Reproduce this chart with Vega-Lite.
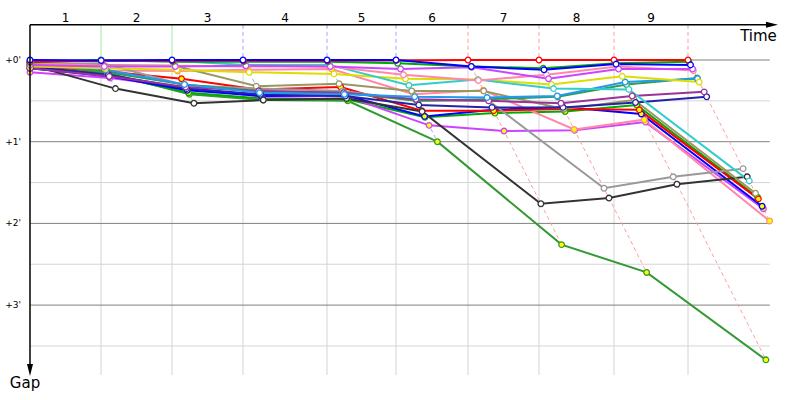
{
  "$schema": "https://vega.github.io/schema/vega-lite/v6.json",
  "width": 800,
  "height": 400,
  "padding": 0,
  "autosize": {"type": "fit", "contains": "padding"},
  "background": "white",
  "config": {"view": {"stroke": null}},
  "datasets": {
    "laps": [
      {"lap": 1, "t": 1.715, "mid": 0.858, "leader": "C"},
      {"lap": 2, "t": 3.430, "mid": 2.573, "leader": "C"},
      {"lap": 3, "t": 5.145, "mid": 4.288, "leader": "B"},
      {"lap": 4, "t": 7.174, "mid": 6.160, "leader": "B"},
      {"lap": 5, "t": 8.841, "mid": 8.007, "leader": "B"},
      {"lap": 6, "t": 10.580, "mid": 9.711, "leader": "A"},
      {"lap": 7, "t": 12.295, "mid": 11.438, "leader": "A"},
      {"lap": 8, "t": 14.106, "mid": 13.200, "leader": "A"},
      {"lap": 9, "t": 15.894, "mid": 15.000, "leader": "A"}
    ],
    "grid": [
      {"g": 0, "kind": "major", "label": "+0'"},
      {"g": 1, "kind": "major", "label": "+1'"},
      {"g": 2, "kind": "major", "label": "+2'"},
      {"g": 3, "kind": "major", "label": "+3'"},
      {"g": 0.5, "kind": "minor", "label": ""},
      {"g": 1.5, "kind": "minor", "label": ""},
      {"g": 2.5, "kind": "minor", "label": ""},
      {"g": 3.5, "kind": "minor", "label": ""}
    ],
    "pts": [
      {"d":"T","c":2,"lap":0,"t":0,"g":0.1},{"d":"T","c":2,"lap":1,"t":1.875,"g":0.16},{"d":"T","c":2,"lap":2,"t":3.85,"g":0.42},{"d":"T","c":2,"lap":3,"t":5.635,"g":0.49},{"d":"T","c":2,"lap":4,"t":7.674,"g":0.5},{"d":"T","c":2,"lap":5,"t":9.841,"g":1.0},{"d":"T","c":2,"lap":6,"t":12.84,"g":2.26},{"d":"T","c":2,"lap":7,"t":14.895,"g":2.6},{"d":"T","c":2,"lap":8,"t":17.776,"g":3.67},
      {"d":"S","c":2,"lap":0,"t":0,"g":0.1},{"d":"S","c":2,"lap":1,"t":1.895,"g":0.18},{"d":"S","c":2,"lap":2,"t":3.83,"g":0.4},{"d":"S","c":2,"lap":3,"t":5.615,"g":0.47},{"d":"S","c":2,"lap":4,"t":7.654,"g":0.48},{"d":"S","c":2,"lap":5,"t":9.541,"g":0.7},{"d":"S","c":2,"lap":6,"t":11.23,"g":0.65},{"d":"S","c":2,"lap":7,"t":12.925,"g":0.63},{"d":"S","c":2,"lap":8,"t":14.656,"g":0.55},{"d":"S","c":2,"lap":9,"t":17.574,"g":1.68},
      {"d":"Q","c":2,"lap":0,"t":0,"g":0.15},{"d":"Q","c":2,"lap":1,"t":1.935,"g":0.22},{"d":"Q","c":2,"lap":2,"t":3.77,"g":0.34},{"d":"Q","c":2,"lap":3,"t":5.595,"g":0.45},{"d":"Q","c":2,"lap":4,"t":7.614,"g":0.44},{"d":"Q","c":2,"lap":5,"t":9.641,"g":0.8},{"d":"Q","c":2,"lap":6,"t":11.45,"g":0.87},{"d":"Q","c":2,"lap":7,"t":13.155,"g":0.86},{"d":"Q","c":2,"lap":8,"t":14.866,"g":0.76},{"d":"Q","c":2,"lap":9,"t":17.714,"g":1.82},
      {"d":"R","c":2,"lap":0,"t":0,"g":0.05},{"d":"R","c":2,"lap":1,"t":1.845,"g":0.13},{"d":"R","c":2,"lap":2,"t":3.565,"g":0.135},{"d":"R","c":2,"lap":3,"t":5.265,"g":0.12},{"d":"R","c":2,"lap":4,"t":7.284,"g":0.11},{"d":"R","c":2,"lap":5,"t":9.261,"g":0.42},{"d":"R","c":2,"lap":6,"t":10.95,"g":0.37},{"d":"R","c":2,"lap":7,"t":13.145,"g":0.85},{"d":"R","c":2,"lap":8,"t":14.836,"g":0.73},{"d":"R","c":2,"lap":9,"t":17.864,"g":1.97},
      {"d":"P","c":2,"lap":0,"t":0,"g":0.1},{"d":"P","c":2,"lap":1,"t":1.915,"g":0.2},{"d":"P","c":2,"lap":2,"t":3.8,"g":0.37},{"d":"P","c":2,"lap":3,"t":5.585,"g":0.44},{"d":"P","c":2,"lap":4,"t":7.604,"g":0.43},{"d":"P","c":2,"lap":5,"t":9.531,"g":0.69},{"d":"P","c":2,"lap":6,"t":11.19,"g":0.61},{"d":"P","c":2,"lap":7,"t":12.87,"g":0.575},{"d":"P","c":2,"lap":8,"t":14.766,"g":0.66},{"d":"P","c":2,"lap":9,"t":17.684,"g":1.79},
      {"d":"O","c":2,"lap":0,"t":0,"g":0.07},{"d":"O","c":2,"lap":1,"t":1.855,"g":0.14},{"d":"O","c":2,"lap":2,"t":3.66,"g":0.23},{"d":"O","c":2,"lap":3,"t":5.505,"g":0.36},{"d":"O","c":2,"lap":4,"t":7.504,"g":0.33},{"d":"O","c":2,"lap":5,"t":9.461,"g":0.62},{"d":"O","c":2,"lap":6,"t":11.2,"g":0.62},{"d":"O","c":2,"lap":7,"t":12.895,"g":0.6},{"d":"O","c":2,"lap":8,"t":14.716,"g":0.61},{"d":"O","c":2,"lap":9,"t":17.594,"g":1.7},
      {"d":"L","c":1,"lap":0,"t":0,"g":0.06},{"d":"L","c":1,"lap":1,"t":2.065,"g":0.35},{"d":"L","c":1,"lap":2,"t":3.96,"g":0.53},{"d":"L","c":1,"lap":3,"t":5.635,"g":0.49},{"d":"L","c":1,"lap":4,"t":7.644,"g":0.47},{"d":"L","c":1,"lap":5,"t":9.471,"g":0.63},{"d":"L","c":1,"lap":6,"t":12.34,"g":1.76},{"d":"L","c":1,"lap":7,"t":13.985,"g":1.69},{"d":"L","c":1,"lap":8,"t":15.626,"g":1.52},{"d":"L","c":1,"lap":9,"t":17.324,"g":1.43},
      {"d":"K","c":1,"lap":0,"t":0,"g":0.05},{"d":"K","c":1,"lap":1,"t":1.755,"g":0.04},{"d":"K","c":1,"lap":2,"t":3.74,"g":0.31},{"d":"K","c":1,"lap":3,"t":5.495,"g":0.35},{"d":"K","c":1,"lap":4,"t":7.554,"g":0.38},{"d":"K","c":1,"lap":5,"t":9.341,"g":0.5},{"d":"K","c":1,"lap":6,"t":11.08,"g":0.5},{"d":"K","c":1,"lap":7,"t":13.865,"g":1.57},{"d":"K","c":1,"lap":8,"t":15.536,"g":1.43},{"d":"K","c":1,"lap":9,"t":17.224,"g":1.33},
      {"d":"M","c":1,"lap":0,"t":0,"g":0.05},{"d":"M","c":1,"lap":1,"t":1.775,"g":0.06},{"d":"M","c":1,"lap":2,"t":3.5,"g":0.07},{"d":"M","c":1,"lap":3,"t":5.465,"g":0.32},{"d":"M","c":1,"lap":4,"t":7.464,"g":0.29},{"d":"M","c":1,"lap":5,"t":9.221,"g":0.38},{"d":"M","c":1,"lap":6,"t":10.96,"g":0.38},{"d":"M","c":1,"lap":7,"t":12.895,"g":0.6},{"d":"M","c":1,"lap":8,"t":14.596,"g":0.49},{"d":"M","c":1,"lap":9,"t":17.524,"g":1.63},
      {"d":"N","c":1,"lap":0,"t":0,"g":0.04},{"d":"N","c":1,"lap":1,"t":1.865,"g":0.15},{"d":"N","c":1,"lap":2,"t":3.73,"g":0.3},{"d":"N","c":1,"lap":3,"t":5.525,"g":0.38},{"d":"N","c":1,"lap":4,"t":7.574,"g":0.4},{"d":"N","c":1,"lap":5,"t":9.341,"g":0.5},{"d":"N","c":1,"lap":6,"t":11.06,"g":0.48},{"d":"N","c":1,"lap":7,"t":12.745,"g":0.45},{"d":"N","c":1,"lap":8,"t":14.406,"g":0.3},{"d":"N","c":1,"lap":9,"t":16.114,"g":0.22},
      {"d":"J","c":1,"lap":0,"t":0,"g":0.08},{"d":"J","c":1,"lap":1,"t":1.895,"g":0.18},{"d":"J","c":1,"lap":2,"t":3.78,"g":0.35},{"d":"J","c":1,"lap":3,"t":5.565,"g":0.42},{"d":"J","c":1,"lap":4,"t":7.614,"g":0.44},{"d":"J","c":1,"lap":5,"t":9.391,"g":0.55},{"d":"J","c":1,"lap":6,"t":11.16,"g":0.58},{"d":"J","c":1,"lap":7,"t":12.875,"g":0.58},{"d":"J","c":1,"lap":8,"t":14.626,"g":0.52},{"d":"J","c":1,"lap":9,"t":16.344,"g":0.45},
      {"d":"I","c":1,"lap":0,"t":0,"g":0.1},{"d":"I","c":1,"lap":1,"t":1.915,"g":0.2},{"d":"I","c":1,"lap":2,"t":3.76,"g":0.33},{"d":"I","c":1,"lap":3,"t":5.525,"g":0.38},{"d":"I","c":1,"lap":4,"t":7.574,"g":0.4},{"d":"I","c":1,"lap":5,"t":9.321,"g":0.48},{"d":"I","c":1,"lap":6,"t":11.08,"g":0.5},{"d":"I","c":1,"lap":7,"t":12.825,"g":0.53},{"d":"I","c":1,"lap":8,"t":14.546,"g":0.44},{"d":"I","c":1,"lap":9,"t":16.284,"g":0.39},
      {"d":"G","c":1,"lap":0,"t":0,"g":0.03},{"d":"G","c":1,"lap":1,"t":1.835,"g":0.12},{"d":"G","c":1,"lap":2,"t":3.73,"g":0.3},{"d":"G","c":1,"lap":3,"t":5.545,"g":0.4},{"d":"G","c":1,"lap":4,"t":7.594,"g":0.42},{"d":"G","c":1,"lap":5,"t":9.291,"g":0.45},{"d":"G","c":1,"lap":6,"t":11.04,"g":0.46},{"d":"G","c":1,"lap":7,"t":12.735,"g":0.44},{"d":"G","c":1,"lap":8,"t":14.376,"g":0.27},{"d":"G","c":1,"lap":9,"t":16.124,"g":0.23},
      {"d":"H","c":1,"lap":0,"t":0,"g":0.08},{"d":"H","c":1,"lap":1,"t":1.815,"g":0.1},{"d":"H","c":1,"lap":2,"t":3.55,"g":0.12},{"d":"H","c":1,"lap":3,"t":5.295,"g":0.15},{"d":"H","c":1,"lap":4,"t":7.344,"g":0.17},{"d":"H","c":1,"lap":5,"t":9.071,"g":0.23},{"d":"H","c":1,"lap":6,"t":10.82,"g":0.24},{"d":"H","c":1,"lap":7,"t":12.595,"g":0.3},{"d":"H","c":1,"lap":8,"t":14.306,"g":0.2},{"d":"H","c":1,"lap":9,"t":16.164,"g":0.27},
      {"d":"F","c":1,"lap":0,"t":0,"g":0.01},{"d":"F","c":1,"lap":1,"t":1.725,"g":0.01},{"d":"F","c":1,"lap":2,"t":3.44,"g":0.01},{"d":"F","c":1,"lap":3,"t":5.205,"g":0.06},{"d":"F","c":1,"lap":4,"t":7.234,"g":0.06},{"d":"F","c":1,"lap":5,"t":9.151,"g":0.31},{"d":"F","c":1,"lap":6,"t":10.82,"g":0.24},{"d":"F","c":1,"lap":7,"t":12.645,"g":0.35},{"d":"F","c":1,"lap":8,"t":14.466,"g":0.36},{"d":"F","c":1,"lap":9,"t":17.374,"g":1.48},
      {"d":"E","c":1,"lap":0,"t":0,"g":0.04},{"d":"E","c":1,"lap":1,"t":1.785,"g":0.07},{"d":"E","c":1,"lap":2,"t":3.5,"g":0.07},{"d":"E","c":1,"lap":3,"t":5.225,"g":0.08},{"d":"E","c":1,"lap":4,"t":7.254,"g":0.08},{"d":"E","c":1,"lap":5,"t":9.021,"g":0.18},{"d":"E","c":1,"lap":6,"t":10.83,"g":0.25},{"d":"E","c":1,"lap":7,"t":12.475,"g":0.18},{"d":"E","c":1,"lap":8,"t":14.186,"g":0.08},{"d":"E","c":1,"lap":9,"t":16.024,"g":0.13},
      {"d":"D","c":1,"lap":0,"t":0,"g":0.06},{"d":"D","c":1,"lap":1,"t":1.795,"g":0.08},{"d":"D","c":1,"lap":2,"t":3.51,"g":0.08},{"d":"D","c":1,"lap":3,"t":5.215,"g":0.07},{"d":"D","c":1,"lap":4,"t":7.254,"g":0.08},{"d":"D","c":1,"lap":5,"t":8.951,"g":0.11},{"d":"D","c":1,"lap":6,"t":10.67,"g":0.09},{"d":"D","c":1,"lap":7,"t":12.525,"g":0.23},{"d":"D","c":1,"lap":8,"t":14.216,"g":0.11},{"d":"D","c":1,"lap":9,"t":16.004,"g":0.11},
      {"d":"C","c":1,"lap":0,"t":0,"g":0.03},{"d":"C","c":1,"lap":1,"t":1.715,"g":0},{"d":"C","c":1,"lap":2,"t":3.45,"g":0.02},{"d":"C","c":1,"lap":3,"t":5.165,"g":0.02},{"d":"C","c":1,"lap":4,"t":7.194,"g":0.02},{"d":"C","c":1,"lap":5,"t":8.881,"g":0.04},{"d":"C","c":1,"lap":6,"t":10.66,"g":0.08},{"d":"C","c":1,"lap":7,"t":12.395,"g":0.1},{"d":"C","c":1,"lap":8,"t":14.146,"g":0.04},{"d":"C","c":1,"lap":9,"t":15.914,"g":0.02},
      {"d":"A","c":1,"lap":0,"t":0,"g":0.02},{"d":"A","c":1,"lap":1,"t":1.725,"g":0.01},{"d":"A","c":1,"lap":2,"t":3.44,"g":0.01},{"d":"A","c":1,"lap":3,"t":5.155,"g":0.01},{"d":"A","c":1,"lap":4,"t":7.184,"g":0.01},{"d":"A","c":1,"lap":5,"t":8.846,"g":0.005},{"d":"A","c":1,"lap":6,"t":10.58,"g":0},{"d":"A","c":1,"lap":7,"t":12.295,"g":0},{"d":"A","c":1,"lap":8,"t":14.106,"g":0},{"d":"A","c":1,"lap":9,"t":15.894,"g":0},
      {"d":"B","c":1,"lap":0,"t":0,"g":0},{"d":"B","c":1,"lap":1,"t":1.72,"g":0.005},{"d":"B","c":1,"lap":2,"t":3.43,"g":0},{"d":"B","c":1,"lap":3,"t":5.145,"g":0},{"d":"B","c":1,"lap":4,"t":7.174,"g":0},{"d":"B","c":1,"lap":5,"t":8.841,"g":0},{"d":"B","c":1,"lap":6,"t":10.66,"g":0.08},{"d":"B","c":1,"lap":7,"t":12.415,"g":0.12},{"d":"B","c":1,"lap":8,"t":14.156,"g":0.05},{"d":"B","c":1,"lap":9,"t":15.954,"g":0.06}
    ]
  },
  "resolve": {"scale": {"color": "independent", "stroke": "independent"}},
  "layer": [
    {
      "data": {"name": "grid"},
      "transform": [{"filter": "datum.kind === 'minor'"}],
      "mark": {"type": "rule", "color": "#d4d4d4", "strokeWidth": 1},
      "encoding": {
        "x": {"datum": 0, "type": "quantitative", "scale": {"domain": [-0.7246, 18.599], "nice": false, "zero": false}, "axis": null},
        "x2": {"datum": 17.87},
        "y": {"field": "g", "type": "quantitative", "scale": {"domain": [-0.7344, 4.1616], "nice": false, "zero": false, "reverse": true}, "axis": null}
      }
    },
    {
      "data": {"name": "laps"},
      "mark": {"type": "rule", "color": "#d4d4d4", "strokeWidth": 1},
      "encoding": {
        "x": {"field": "t", "type": "quantitative", "scale": {"domain": [-0.7246, 18.599], "nice": false, "zero": false}, "axis": null},
        "y": {"datum": 0, "type": "quantitative", "scale": {"domain": [-0.7344, 4.1616], "nice": false, "zero": false, "reverse": true}, "axis": null},
        "y2": {"datum": 3.856}
      }
    },
    {
      "data": {"name": "grid"},
      "transform": [{"filter": "datum.kind === 'major'"}],
      "mark": {"type": "rule", "color": "#808080", "strokeWidth": 1},
      "encoding": {
        "x": {"datum": 0, "type": "quantitative", "scale": {"domain": [-0.7246, 18.599], "nice": false, "zero": false}, "axis": null},
        "x2": {"datum": 17.87},
        "y": {"field": "g", "type": "quantitative", "scale": {"domain": [-0.7344, 4.1616], "nice": false, "zero": false, "reverse": true}, "axis": null}
      }
    },
    {
      "data": {"name": "laps"},
      "mark": {"type": "rule", "strokeWidth": 1},
      "encoding": {
        "x": {"field": "t", "type": "quantitative", "scale": {"domain": [-0.7246, 18.599], "nice": false, "zero": false}, "axis": null},
        "y": {"datum": -0.43, "type": "quantitative", "scale": {"domain": [-0.7344, 4.1616], "nice": false, "zero": false, "reverse": true}, "axis": null},
        "y2": {"datum": 0},
        "color": {"field": "leader", "type": "nominal", "scale": {"domain": ["A", "B", "C"], "range": ["#ff9f9f", "#a4a4ff", "#a0e6a0"]}, "legend": null},
        "strokeDash": {"condition": {"test": "datum.lap <= 2", "value": [1, 0]}, "value": [4, 3]}
      }
    },
    {
      "data": {"name": "pts"},
      "transform": [
        {"filter": "datum.lap >= 1"},
        {"lookup": "lap", "from": {"data": {"name": "laps"}, "key": "lap", "fields": ["leader"]}}
      ],
      "mark": {"type": "line", "strokeWidth": 1, "strokeDash": [4, 3]},
      "encoding": {
        "x": {"field": "t", "type": "quantitative", "scale": {"domain": [-0.7246, 18.599], "nice": false, "zero": false}, "axis": null},
        "y": {"field": "g", "type": "quantitative", "scale": {"domain": [-0.7344, 4.1616], "nice": false, "zero": false, "reverse": true}, "axis": null},
        "detail": {"field": "lap", "type": "nominal"},
        "order": {"field": "g", "type": "quantitative"},
        "stroke": {"field": "leader", "type": "nominal", "scale": {"domain": ["A", "B", "C"], "range": ["#ff9f9f", "#a4a4ff", "#a0e6a0"]}, "legend": null}
      }
    },
    {
      "data": {"name": "pts"},
      "mark": {"type": "line", "strokeWidth": 2},
      "encoding": {
        "x": {"field": "t", "type": "quantitative", "scale": {"domain": [-0.7246, 18.599], "nice": false, "zero": false}, "axis": null},
        "y": {"field": "g", "type": "quantitative", "scale": {"domain": [-0.7344, 4.1616], "nice": false, "zero": false, "reverse": true}, "axis": null},
        "order": {"field": "lap", "type": "quantitative"},
        "color": {"field": "d", "type": "nominal", "sort": null, "legend": null,
          "scale": {"domain": ["T","S","Q","R","P","O","L","K","M","N","J","I","G","H","F","E","D","C","A","B"],
                    "range": ["#339933","#00aa00","#cc44ff","#ff88aa","#0000ff","#ff0000","#333333","#999999","#9a9660","#2e9e4e","#2222aa","#993399","#2299ee","#dddd00","#33cccc","#ff88aa","#cc44ff","#00aa00","#ff0000","#0000ff"]}}
      }
    },
    {
      "data": {"name": "pts"},
      "mark": {"type": "point", "filled": false, "size": 32, "strokeWidth": 1.3, "opacity": 1},
      "encoding": {
        "x": {"field": "t", "type": "quantitative", "scale": {"domain": [-0.7246, 18.599], "nice": false, "zero": false}, "axis": null},
        "y": {"field": "g", "type": "quantitative", "scale": {"domain": [-0.7344, 4.1616], "nice": false, "zero": false, "reverse": true}, "axis": null},
        "stroke": {"field": "d", "type": "nominal", "legend": null,
          "scale": {"domain": ["T","S","Q","R","P","O","L","K","M","N","J","I","G","H","F","E","D","C","A","B"],
                    "range": ["#339933","#00aa00","#cc44ff","#ff9966","#0000ff","#ff0000","#333333","#999999","#9a9660","#2e9e4e","#2222aa","#993399","#2299ee","#dddd00","#33cccc","#ff88aa","#cc44ff","#00aa00","#ff0000","#0000ff"]}},
        "fill": {"field": "c", "type": "nominal", "legend": null, "scale": {"domain": [1, 2], "range": ["#ffffff", "#ffff00"]}}
      }
    },
    {
      "data": {"values": [{}]},
      "mark": {"type": "rule", "color": "black", "strokeWidth": 1.5},
      "encoding": {
        "x": {"datum": 0, "type": "quantitative", "scale": {"domain": [-0.7246, 18.599], "nice": false, "zero": false}, "axis": null},
        "x2": {"datum": 17.9},
        "y": {"datum": -0.43, "type": "quantitative", "scale": {"domain": [-0.7344, 4.1616], "nice": false, "zero": false, "reverse": true}, "axis": null}
      }
    },
    {
      "data": {"values": [{}]},
      "mark": {"type": "rule", "color": "black", "strokeWidth": 1.5},
      "encoding": {
        "x": {"datum": 0, "type": "quantitative", "scale": {"domain": [-0.7246, 18.599], "nice": false, "zero": false}, "axis": null},
        "y": {"datum": -0.43, "type": "quantitative", "scale": {"domain": [-0.7344, 4.1616], "nice": false, "zero": false, "reverse": true}, "axis": null},
        "y2": {"datum": 3.8}
      }
    },
    {
      "data": {"values": [{}]},
      "mark": {"type": "point", "shape": "M-1,-0.5L1,0L-1,0.5Z", "size": 144, "filled": true, "color": "black", "opacity": 1},
      "encoding": {
        "x": {"datum": 17.923, "type": "quantitative", "scale": {"domain": [-0.7246, 18.599], "nice": false, "zero": false}, "axis": null},
        "y": {"datum": -0.43, "type": "quantitative", "scale": {"domain": [-0.7344, 4.1616], "nice": false, "zero": false, "reverse": true}, "axis": null}
      }
    },
    {
      "data": {"values": [{}]},
      "mark": {"type": "point", "shape": "M-0.5,-1L0.5,-1L0,1Z", "size": 144, "filled": true, "color": "black", "opacity": 1},
      "encoding": {
        "x": {"datum": 0, "type": "quantitative", "scale": {"domain": [-0.7246, 18.599], "nice": false, "zero": false}, "axis": null},
        "y": {"datum": 3.794, "type": "quantitative", "scale": {"domain": [-0.7344, 4.1616], "nice": false, "zero": false, "reverse": true}, "axis": null}
      }
    },
    {
      "data": {"name": "laps"},
      "mark": {"type": "text", "font": "DejaVu Sans", "fontSize": 12, "align": "center", "baseline": "alphabetic", "color": "black"},
      "encoding": {
        "x": {"field": "mid", "type": "quantitative", "scale": {"domain": [-0.7246, 18.599], "nice": false, "zero": false}, "axis": null},
        "y": {"datum": -0.469, "type": "quantitative", "scale": {"domain": [-0.7344, 4.1616], "nice": false, "zero": false, "reverse": true}, "axis": null},
        "text": {"field": "lap", "type": "nominal"}
      }
    },
    {
      "data": {"name": "grid"},
      "transform": [{"filter": "datum.kind === 'major'"}],
      "mark": {"type": "text", "font": "DejaVu Sans", "fontSize": 9, "align": "right", "baseline": "middle", "color": "black"},
      "encoding": {
        "x": {"datum": -0.217, "type": "quantitative", "scale": {"domain": [-0.7246, 18.599], "nice": false, "zero": false}, "axis": null},
        "y": {"field": "g", "type": "quantitative", "scale": {"domain": [-0.7344, 4.1616], "nice": false, "zero": false, "reverse": true}, "axis": null},
        "text": {"field": "label", "type": "nominal"}
      }
    },
    {
      "data": {"values": [{"label": "Time"}]},
      "mark": {"type": "text", "font": "DejaVu Sans", "fontSize": 15, "align": "right", "baseline": "alphabetic", "color": "black"},
      "encoding": {
        "x": {"datum": 18.04, "type": "quantitative", "scale": {"domain": [-0.7246, 18.599], "nice": false, "zero": false}, "axis": null},
        "y": {"datum": -0.233, "type": "quantitative", "scale": {"domain": [-0.7344, 4.1616], "nice": false, "zero": false, "reverse": true}, "axis": null},
        "text": {"field": "label", "type": "nominal"}
      }
    },
    {
      "data": {"values": [{"label": "Gap"}]},
      "mark": {"type": "text", "font": "DejaVu Sans", "fontSize": 15, "align": "center", "baseline": "alphabetic", "color": "black"},
      "encoding": {
        "x": {"datum": -0.12, "type": "quantitative", "scale": {"domain": [-0.7246, 18.599], "nice": false, "zero": false}, "axis": null},
        "y": {"datum": 4.015, "type": "quantitative", "scale": {"domain": [-0.7344, 4.1616], "nice": false, "zero": false, "reverse": true}, "axis": null},
        "text": {"field": "label", "type": "nominal"}
      }
    }
  ]
}
